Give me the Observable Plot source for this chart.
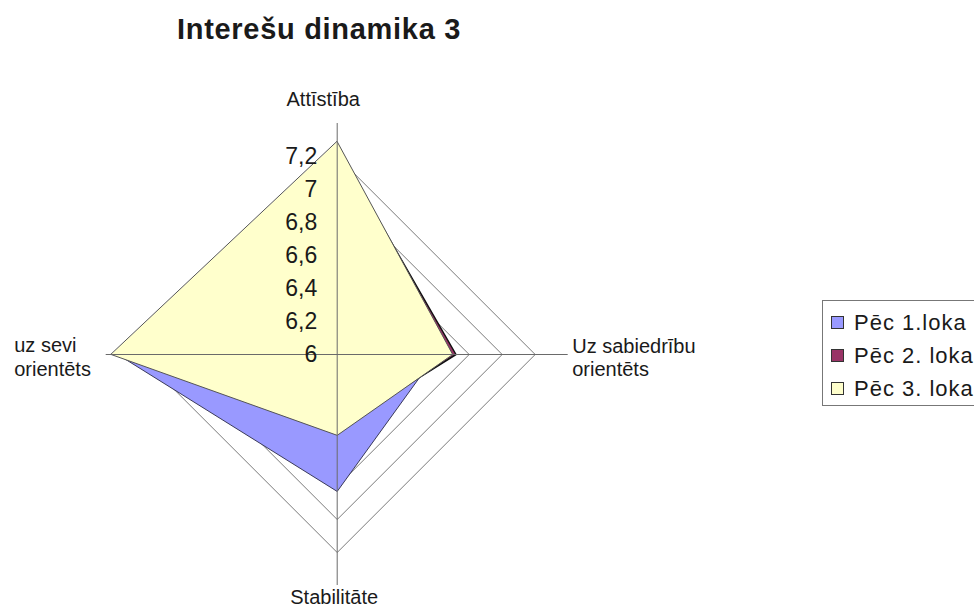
<!DOCTYPE html>
<html><head><meta charset="utf-8">
<script src="https://cdn.jsdelivr.net/npm/d3@7"></script>
<script src="https://cdn.jsdelivr.net/npm/@observablehq/plot@0.6"></script>
<style>
body{margin:0;background:#fff;font-family:"Liberation Sans",Arial,sans-serif;}
#wrap{position:relative;width:974px;height:608px;overflow:hidden;}
#chart{position:absolute;left:0;top:0;}
#title{position:absolute;left:177px;top:15px;font-size:29px;font-weight:bold;letter-spacing:0.7px;line-height:29px;color:#1a1a1a;white-space:nowrap;}
#legend{position:absolute;left:822px;top:300px;width:200px;border:1px solid #777;padding-top:5px;}
.row{height:33px;display:flex;align-items:center;font-size:22px;letter-spacing:1px;color:#1a1a1a;white-space:nowrap;}
.sw{width:13px;height:13px;border:1px solid #333;margin-left:8px;margin-right:10px;box-sizing:border-box;flex:none;}
</style></head>
<body><div id="wrap"><div id="chart"></div><div id="title"></div><div id="legend"></div></div>
<script>
const titleText = "Interešu dinamika 3";
const axisNames = ["Attīstība", "Uz sabiedrību\norientēts", "Stabilitāte", "uz sevi\norientēts"];
const seriesNames = ["Pēc 1.loka", "Pēc 2. loka", "Pēc 3. loka"];
const seriesColors = ["#9999FF", "#993366", "#FFFFCC"];
const pec1 = [7.05, 6.60, 6.83, 7.33];
const pec2 = [7.25, 6.72, 6.45, 7.25];
const pec3 = [7.29, 6.70, 6.49, 7.37];
const tickValues = [6, 6.2, 6.4, 6.6, 6.8, 7, 7.2];
const tickLabels = ["6", "6,2", "6,4", "6,6", "6,8", "7", "7,2"];
const axisMin = 6, axisEnd = 7.4;

// layout
const W = 974, H = 608, k = 165, cx = 336.7, cy = 354;
const dirs = [[0, 1], [1, 0], [0, -1], [-1, 0]];
const font = "'Liberation Sans', Arial, sans-serif";
const ink = "#1a1a1a";

const seriesValues = [pec1, pec2, pec3];
const polys = seriesValues.map((vals, s) => vals.map((v, i) => ({
  series: seriesNames[s], x: (v - axisMin) * dirs[i][0], y: (v - axisMin) * dirs[i][1]
})));
const rings = tickValues.filter(t => t > axisMin).flatMap(t => dirs.map(d => ({
  t, x: (t - axisMin) * d[0], y: (t - axisMin) * d[1]
})));
const R = axisEnd - axisMin;
const ticks = tickValues.map((t, i) => ({y: t - axisMin, label: tickLabels[i]}));

const chart = Plot.plot({
  width: W, height: H, margin: 0,
  x: {domain: [-cx / k, (W - cx) / k], axis: null},
  y: {domain: [-(H - cy) / k, cy / k], axis: null},
  marks: [
    Plot.line(rings, {x: "x", y: "y", z: "t", curve: "linear-closed", stroke: "#7a7a7a", strokeWidth: 1}),
    Plot.line(polys[0], {x: "x", y: "y", curve: "linear-closed", fill: seriesColors[0], stroke: "#3a3a5a", strokeWidth: 1}),
    Plot.line(polys[1], {x: "x", y: "y", curve: "linear-closed", fill: seriesColors[1], stroke: "#111", strokeWidth: 1.5}),
    Plot.line(polys[2], {x: "x", y: "y", curve: "linear-closed", fill: seriesColors[2], stroke: "#555", strokeWidth: 1}),
    Plot.ruleX([0], {y1: -R, y2: R, stroke: "#6a6a6a", strokeWidth: 1}),
    Plot.ruleY([0], {x1: -R, x2: R, stroke: "#6a6a6a", strokeWidth: 1}),
    Plot.text(ticks, {x: 0, y: "y", text: "label", textAnchor: "end", dx: -20, fontSize: 23, fontFamily: font, fill: ink}),
    Plot.text([axisNames[0]], {x: 0, y: R, text: d => d, dx: -14, dy: -24, fontSize: 20, fontFamily: font, fill: ink}),
    Plot.text([axisNames[2]], {x: 0, y: -R, text: d => d, dx: -3, dy: 12, fontSize: 20, fontFamily: font, fill: ink}),
    Plot.text([axisNames[1]], {x: R, y: 0, text: d => d, textAnchor: "start", lineAnchor: "top", lineHeight: 1.15, dx: 4, dy: -18, fontSize: 20, fontFamily: font, fill: ink}),
    Plot.text([axisNames[3]], {x: -R, y: 0, text: d => d, textAnchor: "start", lineAnchor: "top", lineHeight: 1.2, dx: -92, dy: -20, fontSize: 20, fontFamily: font, fill: ink})
  ]
});
document.getElementById("chart").appendChild(chart);
document.getElementById("title").textContent = titleText;
const legend = document.getElementById("legend");
seriesNames.forEach((name, i) => {
  const row = document.createElement("div");
  row.className = "row";
  const sw = document.createElement("span");
  sw.className = "sw";
  sw.style.background = seriesColors[i];
  const tx = document.createElement("span");
  tx.textContent = name;
  row.appendChild(sw); row.appendChild(tx);
  legend.appendChild(row);
});
</script>
</body></html>
